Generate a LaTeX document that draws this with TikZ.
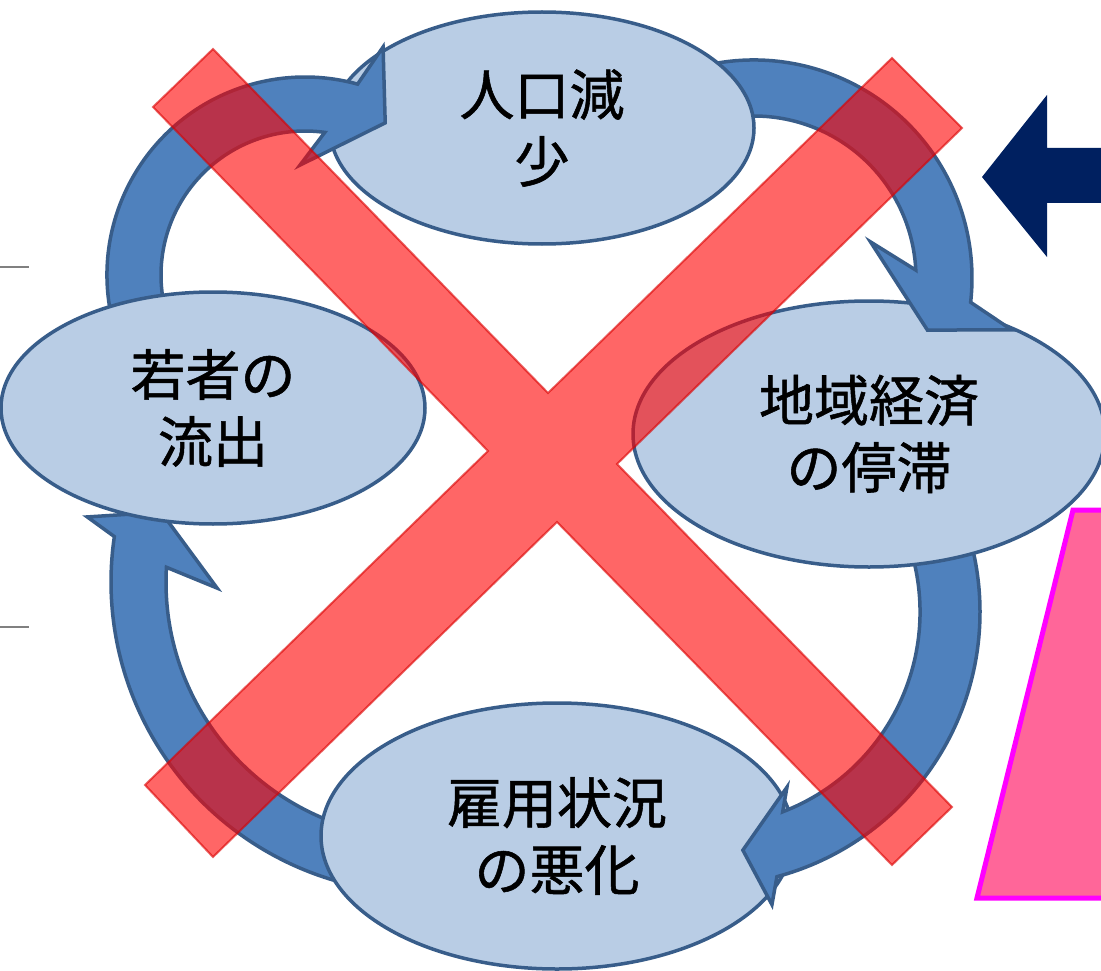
\documentclass[tikz,border=0pt]{standalone}
\usepackage{fontspec}
\newfontfamily\jpfont[FakeBold=1]{Noto Sans CJK JP}
\usepackage{tikz}
\usetikzlibrary{shapes.geometric}

\definecolor{bubble}{HTML}{B9CDE5}
\definecolor{rim}{HTML}{385D8A}
\definecolor{loopblue}{HTML}{4F81BD}
\definecolor{navy}{HTML}{002060}
\definecolor{pinkbox}{HTML}{FF6699}
\definecolor{pinkrim}{HTML}{FF00FF}

\tikzset{
  bubble small/.style={ellipse,draw=rim,fill=bubble,line width = 3.5,
    minimum width=424,minimum height=232,inner sep=0,align=center,
    font=\jpfont\fontsize{55}{67}\selectfont},
  bubble big/.style={bubble small,minimum width=472,minimum height=266},
  loop arrow/.style={fill=loopblue,draw=rim,line width = 3.5,line join=miter},
  cross bar/.style={fill=red,draw=red!85!black,line width = 2,opacity=0.6}
}

\begin{document}
\begin{tikzpicture}[x=1pt,y=-1pt]
\useasboundingbox (0,0) rectangle (1101,971);
\clip (0,0) rectangle (1101,971);

\coordinate (bl) at (422,582);
\coordinate (br) at (706,612);
\coordinate (tr) at (754,278);
\coordinate (tl) at (305,275);

\filldraw[loop arrow,shift={(bl)}] (95:311) arc[start angle=95,end angle=188.4,radius=311]
  -- (191:341) -- (195:270) -- (178.3:205) -- (183.3:256)
  arc[start angle=183.3,end angle=95,radius=256] -- cycle;
\node[bubble big] (jobs) at (557,836) {雇用状況\\の悪化};

\filldraw[loop arrow,shift={(br)}] (-20:274) arc[start angle=-20,end angle=75,radius=274]
  -- (77.3:300) -- (81.2:241) -- (65.2:193) -- (69:214)
  arc[start angle=69,end angle=-20,radius=214] -- cycle;
\node[bubble big] (econ) at (869,434) {地域経済\\の停滞};

\filldraw[loop arrow,shift={(tr)}] (245:218) arc[start angle=245,end angle=366.4,radius=218]
  -- (371.4:263) -- (376.7:181) -- (342.8:122) -- (357.2:162)
  arc[start angle=357.2,end angle=245,radius=162] -- cycle;
\node[bubble small] (pop) at (542,128) {人口減\\少};

\filldraw[loop arrow,shift={(tl)}] (165:198) arc[start angle=165,end angle=285.4,radius=198]
  -- (288.9:241) -- (297.8:172) -- (267.4:110) -- (277.9:144)
  arc[start angle=277.9,end angle=165,radius=144] -- cycle;
\node[bubble small] (youth) at (213,408) {若者の\\流出};

\filldraw[cross bar] (153,107) -- (213,49) -- (548,393) -- (892,58) -- (962,128) -- (617,464)
  -- (952,807) -- (892,865) -- (557,522) -- (213,857) -- (145,785) -- (488,451) -- cycle;

\fill[navy] (982,177) -- (1047,95) -- (1047,148) -- (1110,148) -- (1110,203) -- (1047,203) -- (1047,257) -- cycle;
\filldraw[fill=pinkbox,draw=pinkrim,line width = 5] (1073,510) -- (977,898) -- (1115,898) -- (1115,510) -- cycle;

\draw[gray,line width = 1.5] (0,267) -- (29,267);
\draw[gray,line width = 1.5] (0,627) -- (29,627);
\end{tikzpicture}
\end{document}
